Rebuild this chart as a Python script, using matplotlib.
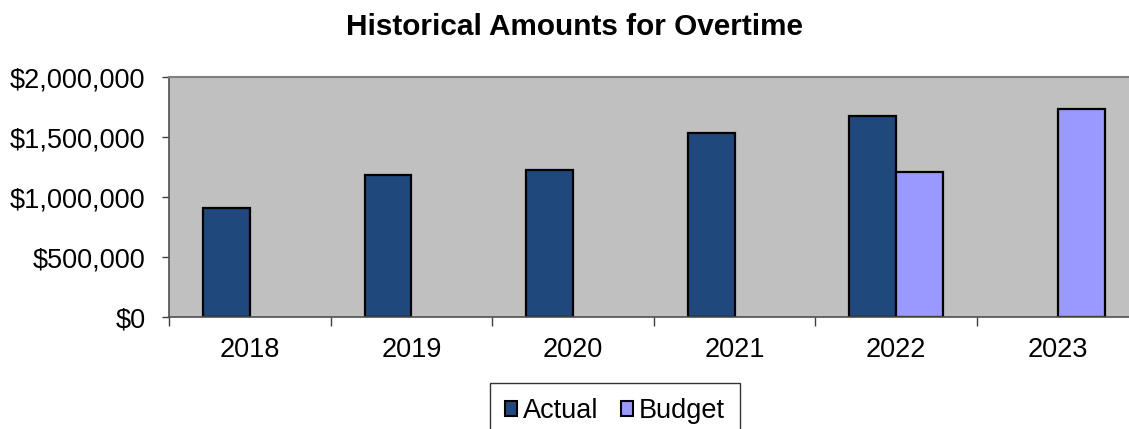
import matplotlib
matplotlib.use("Agg")
import matplotlib.pyplot as plt
import numpy as np
from matplotlib.ticker import FuncFormatter, FixedLocator
from matplotlib.patches import Patch

plt.rcParams['font.family'] = ['Liberation Sans', 'DejaVu Sans']

years = ["2018", "2019", "2020", "2021", "2022", "2023"]
actual = [910000, 1185000, 1230000, 1540000, 1676000, np.nan]
budget = [np.nan, np.nan, np.nan, np.nan, 1208000, 1735000]

actual_color = "#1F497D"
budget_color = "#9999FF"

W, H = 1129, 429
fig = plt.figure(figsize=(W / 100, H / 100), dpi=100)
left, right, top, bottom = 169, 1138.6, 77.5, 317
ax = fig.add_axes([left / W, 1 - bottom / H, (right - left) / W, (bottom - top) / H])
ax.set_facecolor("#C0C0C0")

x = np.arange(len(years))
bw = 0.29
ax.bar(x - bw / 2, actual, width=bw, color=actual_color, edgecolor="black", linewidth=1.6, label="Actual")
ax.bar(x + bw / 2, budget, width=bw, color=budget_color, edgecolor="black", linewidth=1.6, label="Budget")

ax.set_xlim(-0.5, len(years) - 0.5)
ax.set_ylim(0, 2000000)
ax.set_yticks(np.arange(0, 2000001, 500000))
ax.yaxis.set_major_formatter(FuncFormatter(lambda v, p: f"${v:,.0f}"))

# category labels centered, ticks on category boundaries
ax.set_xticks(x)
ax.set_xticklabels(years)
ax.tick_params(axis='x', which='major', length=0, pad=14.5, labelsize=19.5)
ax.xaxis.set_minor_locator(FixedLocator(np.arange(-0.5, len(years), 1.0)))
ax.tick_params(axis='x', which='minor', length=6.5, width=1, color="#404040", direction='out')
ax.tick_params(axis='y', length=5, width=1, color="#404040", direction='out', labelsize=19.5, pad=12)

for s in ["left", "bottom"]:
    ax.spines[s].set_color("#505050")
    ax.spines[s].set_linewidth(1.2)
ax.spines["top"].set_color("#808080")
ax.spines["top"].set_linewidth(1.5)
ax.spines["right"].set_color("#808080")

fig.text(575 / W, 1 - 27 / H, "Historical Amounts for Overtime",
         ha="center", va="center", fontsize=21.4, fontweight="bold")

handles = [Patch(facecolor=actual_color, edgecolor="black", linewidth=1.5, label="Actual"),
           Patch(facecolor=budget_color, edgecolor="black", linewidth=1.5, label="Budget")]
leg = fig.legend(handles=handles, loc="upper left", bbox_to_anchor=(490 / W, 1 - 383 / H),
                 ncol=2, fontsize=19.5, frameon=True, fancybox=False, edgecolor="black",
                 handlelength=0.45, handleheight=0.45, handletextpad=0.2, columnspacing=0.85,
                 borderpad=0.55, borderaxespad=0)
leg.get_frame().set_linewidth(1.0)

fig.savefig("out.png", dpi=100)
